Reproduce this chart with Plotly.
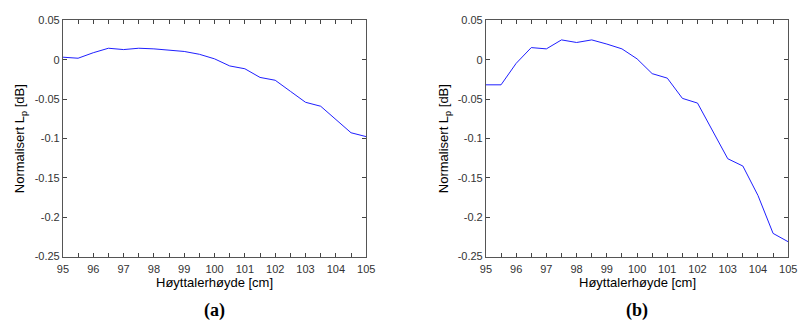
import plotly.graph_objects as go

# Speaker height positions [cm]
hoyde = [95.0, 95.5, 96.0, 96.5, 97.0, 97.5, 98.0, 98.5, 99.0, 99.5, 100.0,
         100.5, 101.0, 101.5, 102.0, 102.5, 103.0, 103.5, 104.0, 104.5, 105.0]

# Normalised sound pressure level [dB], panel (a)
lp_a = [0.0033, 0.0020, 0.0090, 0.0147, 0.0130, 0.0147, 0.0139, 0.0122, 0.0106,
        0.0070, 0.0012, -0.0078, -0.0114, -0.0224, -0.0260, -0.0400, -0.0540,
        -0.0590, -0.0755, -0.0927, -0.0976]

# Normalised sound pressure level [dB], panel (b)
lp_b = [-0.0318, -0.0318, -0.0045, 0.0155, 0.0139, 0.0253, 0.0220, 0.0253, 0.0200,
        0.0139, 0.0012, -0.0176, -0.0233, -0.0490, -0.0550, -0.0900, -0.1257,
        -0.1350, -0.1724, -0.2206, -0.2312]

x_ticks = list(range(95, 106))
x_ticktext = [str(v) for v in x_ticks]
y_ticks = [0.05, 0.0, -0.05, -0.1, -0.15, -0.2, -0.25]
y_ticktext = ["0.05", "0", "-0.05", "-0.1", "-0.15", "-0.2", "-0.25"]

W, H = 808, 330
dom_y = [1 - 260 / H, 1 - 15 / H]
dom_x1 = [58 / W, 367 / W]
dom_x2 = [489 / W, 797 / W]

fig = go.Figure()
fig.add_trace(go.Scatter(x=hoyde, y=lp_a, mode="lines",
                         line=dict(color="#1f1fff", width=1),
                         xaxis="x", yaxis="y", showlegend=False))
fig.add_trace(go.Scatter(x=hoyde, y=lp_b, mode="lines",
                         line=dict(color="#1f1fff", width=1),
                         xaxis="x2", yaxis="y2", showlegend=False))

tick_font = dict(family="Arial, Liberation Sans, sans-serif", size=11, color="#333333")
common_x = dict(range=[95, 105], tickmode="array", tickvals=x_ticks, ticktext=x_ticktext,
                ticks="inside", ticklen=4, tickcolor="#444444", showline=True,
                linecolor="#555555", linewidth=1, mirror="ticks", showgrid=False,
                zeroline=False, tickfont=tick_font, tickangle=0, ticklabelstandoff=2,
                minor=dict(dtick=0.5, tick0=95, ticks="inside", ticklen=4,
                           tickcolor="#444444", showgrid=False))
common_y = dict(range=[-0.25, 0.05], tickmode="array", tickvals=y_ticks, ticktext=y_ticktext,
                ticks="inside", ticklen=4, tickcolor="#444444", showline=True,
                linecolor="#555555", linewidth=1, mirror="ticks", showgrid=False,
                zeroline=False, tickfont=tick_font)

fig.update_layout(
    width=W, height=H,
    margin=dict(l=0, r=0, t=0, b=0),
    paper_bgcolor="white", plot_bgcolor="white",
    xaxis=dict(domain=dom_x1, anchor="y", **common_x),
    yaxis=dict(domain=dom_y, anchor="x", **common_y),
    xaxis2=dict(domain=dom_x2, anchor="y2", **common_x),
    yaxis2=dict(domain=dom_y, anchor="x2", **common_y),
)

label_font = dict(family="Arial, Liberation Sans, sans-serif", size=13, color="black")
title_font = dict(family="Times New Roman, Liberation Serif, serif", size=18, color="black")

annotations = []
for dx, ytitle_x, panel in [(dom_x1, 15, "(a)"), (dom_x2, 447, "(b)")]:
    cx = (dx[0] + dx[1]) / 2
    annotations.append(dict(text="Høyttalerhøyde [cm]", x=cx, y=1 - 287 / H,
                            xref="paper", yref="paper", showarrow=False,
                            xanchor="center", yanchor="middle", font=label_font))
    annotations.append(dict(text="Normalisert L<sub>p</sub> [dB]", x=ytitle_x / W,
                            y=(dom_y[0] + dom_y[1]) / 2, xref="paper", yref="paper",
                            showarrow=False, textangle=-90, xanchor="center",
                            yanchor="middle", font=label_font))
    annotations.append(dict(text="<b>" + panel + "</b>", x=cx, y=1 - 316 / H,
                            xref="paper", yref="paper", showarrow=False,
                            xanchor="center", yanchor="middle", font=title_font))
fig.update_layout(annotations=annotations)

fig.write_html("out.html")
